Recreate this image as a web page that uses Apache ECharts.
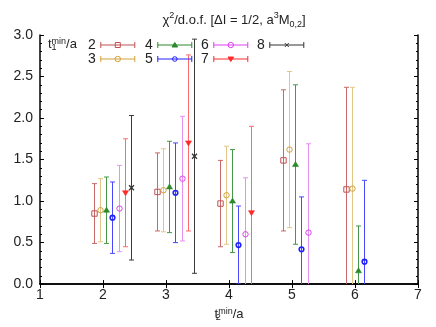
<!DOCTYPE html>
<html><head><meta charset="utf-8">
<script src="https://cdn.jsdelivr.net/npm/echarts@6/dist/echarts.min.js"></script>
<style>html,body{margin:0;padding:0;background:#fff}#c{width:436px;height:327px}</style>
</head><body><div id="c"></div>
<script>
// ---- data ----
const t1Names = ['2', '3', '4', '5', '6', '7', '8'];
const xTickLabels = ['1', '2', '3', '4', '5', '6', '7'];
const yTickLabels = ['0.0', '0.5', '1.0', '1.5', '2.0', '2.5', '3.0'];

const t1_2_x   = [1.85, 2.85, 3.85, 4.85, 5.85];
const t1_2_y   = [0.85, 1.11, 0.97, 1.49, 1.14];
const t1_2_err = [0.36, 0.47, 0.52, 0.85, 1.23];

const t1_3_x   = [1.95, 2.95, 3.95, 4.95, 5.95];
const t1_3_y   = [0.89, 1.13, 1.07, 1.62, 1.15];
const t1_3_err = [0.38, 0.50, 0.59, 0.94, 1.22];

const t1_4_x   = [2.05, 3.05, 4.05, 5.05, 6.05];
const t1_4_y   = [0.89, 1.17, 1.00, 1.44, 0.16];
const t1_4_err = [0.40, 0.55, 0.62, 0.96, 0.54];

const t1_5_x   = [2.15, 3.15, 4.15, 5.15, 6.15];
const t1_5_y   = [0.80, 1.10, 0.47, 0.42, 0.27];
const t1_5_err = [0.43, 0.60, 0.47, 0.63, 0.98];

const t1_6_x   = [2.25, 3.25, 4.25, 5.25];
const t1_6_y   = [0.91, 1.27, 0.60, 0.62];
const t1_6_err = [0.52, 0.75, 0.68, 1.07];

const t1_7_x   = [2.35, 3.35, 4.35];
const t1_7_y   = [1.10, 1.70, 0.86];
const t1_7_err = [0.65, 1.06, 1.04];

const t1_8_x   = [2.45, 3.45];
const t1_8_y   = [1.16, 1.54];
const t1_8_err = [0.87, 1.41];

const allX = [t1_2_x, t1_3_x, t1_4_x, t1_5_x, t1_6_x, t1_7_x, t1_8_x];
const allY = [t1_2_y, t1_3_y, t1_4_y, t1_5_y, t1_6_y, t1_7_y, t1_8_y];
const allErr = [t1_2_err, t1_3_err, t1_4_err, t1_5_err, t1_6_err, t1_7_err, t1_8_err];

// ---- styles ----
const styles = [
  {shape: 'square',  mark: '#c05050', line: '#c86868'},
  {shape: 'circle',  mark: '#d4a137', line: '#e2c688'},
  {shape: 'triUp',   mark: '#2a8a2a', line: '#48964a'},
  {shape: 'circleB', mark: '#2020ff', line: '#4848ff'},
  {shape: 'circle',  mark: '#dd40ee', line: '#e690f2'},
  {shape: 'triDown', mark: '#ff2a2a', line: '#ff6a6a'},
  {shape: 'cross',   mark: '#333333', line: '#3a3a3a'}
];

const FONT = 'Liberation Sans, Arial, Helvetica, sans-serif';

function markerEl(shape, cx, cy, color) {
  const r = 2.7;
  if (shape === 'square') return {type: 'rect', shape: {x: cx - r, y: cy - r, width: 2 * r, height: 2 * r}, style: {fill: 'none', stroke: color, lineWidth: 1}};
  if (shape === 'circle') return {type: 'circle', shape: {cx: cx, cy: cy, r: r}, style: {fill: 'none', stroke: color, lineWidth: 1}};
  if (shape === 'circleB') return {type: 'circle', shape: {cx: cx, cy: cy, r: 2.3}, style: {fill: 'none', stroke: color, lineWidth: 1.6}};
  if (shape === 'triUp') return {type: 'polygon', shape: {points: [[cx, cy - 3], [cx + 3, cy + 2], [cx - 3, cy + 2]]}, style: {fill: color, stroke: color, lineWidth: 0.6}};
  if (shape === 'triDown') return {type: 'polygon', shape: {points: [[cx - 3, cy - 2], [cx + 3, cy - 2], [cx, cy + 3]]}, style: {fill: color, stroke: color, lineWidth: 0.6}};
  return {type: 'group', children: [
    {type: 'line', shape: {x1: cx - 2.5, y1: cy - 2.5, x2: cx + 2.5, y2: cy + 2.5}, style: {stroke: color, lineWidth: 1.2}},
    {type: 'line', shape: {x1: cx + 2.5, y1: cy - 2.5, x2: cx - 2.5, y2: cy + 2.5}, style: {stroke: color, lineWidth: 1.2}}
  ]};
}

function makeRender(st) {
  return function (params, api) {
    const x = api.value(0), y = api.value(1), e = api.value(2);
    const p = api.coord([x, y]);
    const lo = api.coord([x, y - e]);
    const hi = api.coord([x, y + e]);
    const px = Math.round(p[0]) + 0.5;
    const cw = 2.5;
    return {type: 'group', children: [
      {type: 'line', shape: {x1: px, y1: lo[1], x2: px, y2: hi[1]}, style: {stroke: st.line, lineWidth: 1}},
      {type: 'line', shape: {x1: px - cw, y1: hi[1], x2: px + cw, y2: hi[1]}, style: {stroke: st.line, lineWidth: 1}},
      {type: 'line', shape: {x1: px - cw, y1: lo[1], x2: px + cw, y2: lo[1]}, style: {stroke: st.line, lineWidth: 1}},
      markerEl(st.shape, px, p[1], st.mark)
    ]};
  };
}

const markerPaths = {
  square: 'M14.5 0.5L19.5 0.5L19.5 5.5L14.5 5.5Z',
  circle: 'M19.7 3A2.7 2.7 0 1 1 14.3 3A2.7 2.7 0 1 1 19.7 3Z',
  circleB: 'M19.3 3A2.3 2.3 0 1 1 14.7 3A2.3 2.3 0 1 1 19.3 3Z',
  triUp: 'M17 0.5L19.8 5L14.2 5Z',
  triDown: 'M14.2 1L19.8 1L17 5.5Z',
  cross: 'M15 1L19 5M19 1L15 5'
};
function legendItem(i) {
  const st = styles[i];
  const filled = st.shape === 'triUp' || st.shape === 'triDown';
  return {
    name: t1Names[i],
    icon: 'path://M0 3L34 3M0 0L0 6M34 0L34 6' + markerPaths[st.shape],
    itemStyle: {color: filled ? st.mark : 'none', borderColor: st.mark, borderWidth: 1}
  };
}
function legendCol(left, idxs) {
  return {
    orient: 'vertical', left: left, top: 38, itemGap: 0, itemWidth: 34, itemHeight: 6,
    align: 'right', selectedMode: false, padding: 0,
    textStyle: {fontSize: 14, lineHeight: 13, color: '#222', fontFamily: FONT},
    data: idxs.map(legendItem)
  };
}

const series = t1Names.map(function (name, i) {
  return {
    name: name, type: 'custom', clip: true,
    itemStyle: {color: styles[i].mark},
    renderItem: makeRender(styles[i]),
    encode: {x: 0, y: 1},
    data: allX[i].map(function (xv, k) { return [xv, allY[i][k], allErr[i][k]]; })
  };
});

const axisLineStyle = {color: '#000', width: 1.5};
const labelStyle = {fontSize: 14, color: '#222', fontFamily: FONT};

const option = {
  animation: false,
  backgroundColor: '#fff',
  title: {
    text: 'χ{sp|2}/d.o.f. [ΔI = 1/2, a{sp|3}M{sb|0,2}]',
    left: 229, top: 6, textAlign: 'center',
    textStyle: {
      fontSize: 13, fontWeight: 'normal', color: '#222', fontFamily: FONT, lineHeight: 18,
      rich: {
        sp: {fontSize: 9, verticalAlign: 'top', lineHeight: 18, fontFamily: FONT, color: '#222'},
        sb: {fontSize: 9, verticalAlign: 'bottom', lineHeight: 18, fontFamily: FONT, color: '#222'}
      }
    }
  },
  grid: {left: 40, right: 18, top: 35, bottom: 42},
  legend: [
    legendCol(88, [0, 1]),
    legendCol(145, [2, 3]),
    legendCol(201, [4, 5]),
    legendCol(257, [6])
  ],
  graphic: [{
    type: 'text', left: 48, top: 37,
    style: {
      text: 't{sb|1}{sp|min}/a', fontSize: 13, fill: '#222', fontFamily: FONT, lineHeight: 15,
      rich: {
        sb: {fontSize: 9, verticalAlign: 'bottom', width: 0, lineHeight: 15, fill: '#222', fontFamily: FONT},
        sp: {fontSize: 9, verticalAlign: 'top', lineHeight: 15, fill: '#222', fontFamily: FONT}
      }
    }
  }],
  xAxis: [{
    type: 'value', min: 1, max: 7, interval: 1, position: 'bottom',
    axisLine: {lineStyle: axisLineStyle},
    axisTick: {inside: true, length: 4, lineStyle: {color: '#000', width: 1}},
    splitLine: {show: false},
    axisLabel: Object.assign({margin: 4, formatter: function (v) { return xTickLabels[Math.round(v) - 1]; }}, labelStyle),
    name: 't{sb|2}{sp|min}/a', nameLocation: 'middle', nameGap: 16,
    nameTextStyle: {
      fontSize: 13, color: '#222', fontFamily: FONT, lineHeight: 15,
      rich: {
        sb: {fontSize: 9, verticalAlign: 'bottom', width: 0, lineHeight: 15, color: '#222', fontFamily: FONT},
        sp: {fontSize: 9, verticalAlign: 'top', lineHeight: 15, color: '#222', fontFamily: FONT}
      }
    }
  }, {
    type: 'value', min: 1, max: 7, interval: 1, position: 'top',
    axisLine: {lineStyle: axisLineStyle},
    axisTick: {inside: true, length: 4, lineStyle: {color: '#000', width: 1}},
    splitLine: {show: false}, axisLabel: {show: false}
  }],
  yAxis: [{
    type: 'value', min: 0, max: 3, interval: 0.5, position: 'left',
    axisLine: {show: true, lineStyle: axisLineStyle},
    axisTick: {show: true, inside: true, length: 4, lineStyle: {color: '#000', width: 1}},
    minorTick: {show: true, splitNumber: 5, length: 2, lineStyle: {color: '#000', width: 1}},
    splitLine: {show: false},
    axisLabel: Object.assign({margin: 7, formatter: function (v) { return yTickLabels[Math.round(v * 2)]; }}, labelStyle)
  }, {
    type: 'value', min: 0, max: 3, interval: 0.5, position: 'right',
    axisLine: {show: true, lineStyle: axisLineStyle},
    axisTick: {show: true, inside: true, length: 4, lineStyle: {color: '#000', width: 1}},
    minorTick: {show: true, splitNumber: 5, length: 2, lineStyle: {color: '#000', width: 1}},
    splitLine: {show: false}, axisLabel: {show: false}
  }],
  series: series
};

const chart = echarts.init(document.getElementById('c'), null, {renderer: 'canvas'});
chart.setOption(option);
</script>
</body></html>
